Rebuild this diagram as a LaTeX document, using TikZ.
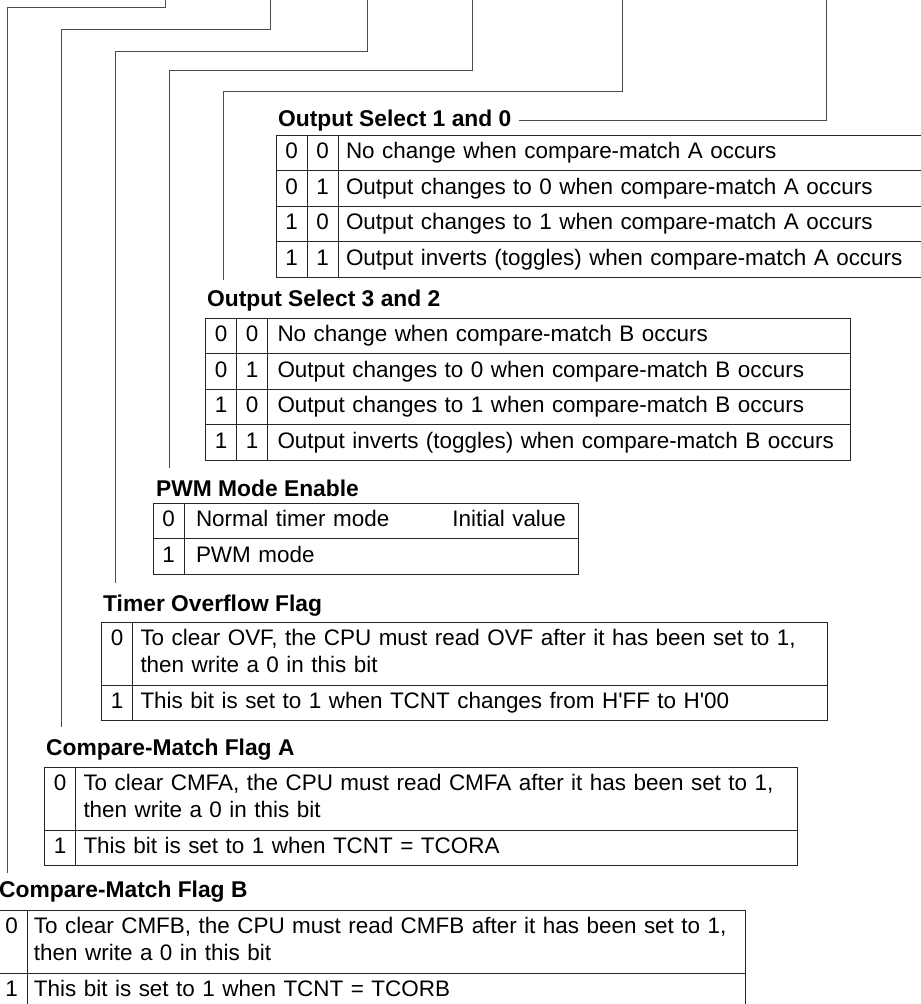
\documentclass[tikz,border=0pt]{standalone}
\usepackage{fontspec}
\setmainfont{Liberation Sans}
\usepackage{tikz}
\usetikzlibrary{positioning,calc}
\newcommand{\regfont}{\fontsize{22.45pt}{27pt}\selectfont\hyphenpenalty=10000\relax}
\newcommand{\headfont}{\fontsize{22.8pt}{27pt}\selectfont\bfseries}
\tikzset{BIT/.style={rectangle,draw=black!85,line width=0.9pt,inner sep=0pt,outer sep=0pt,minimum width=31pt,minimum height=35.5pt,text height=16.5pt,text depth=5pt}}
\tikzset{DESC/.style={BIT,align=left,inner xsep=8pt,text width=#1}}
\tikzset{TWO/.style={minimum height=63pt,text depth=32pt}}
\tikzset{TITLE/.style={font=\headfont,anchor=base west,inner sep=0pt}}
\tikzset{LEAD/.style={line width=0.9pt,draw=black!70}}

\begin{document}
\begin{tikzpicture}[x=1pt,y=-1pt,font=\regfont]

\useasboundingbox (0,0) rectangle (921,1004);
\clip (0,0) rectangle (921,1004);

% titles
\node[TITLE] (t_os10) at (278,126) {Output Select 1 and 0};
\node[TITLE] (t_os32) at (207,306) {Output Select 3 and 2};
\node[TITLE] (t_pwm) at (156,496) {PWM Mode Enable};
\node[TITLE] (t_ovf) at (103,611) {Timer Overflow Flag};
\node[TITLE] (t_cmfa) at (46,755) {Compare-Match Flag A};
\node[TITLE] (t_cmfb) at (-1,897) {Compare-Match Flag B};

% output select 1 and 0
\node[BIT,anchor=north west] (os10_a0) at (276,135) {0};
\node[BIT,right=0pt of os10_a0] (os10_b0) {0};
\node[DESC=568pt,right=0pt of os10_b0] (os10_d0) {No change when compare-match A occurs};
\node[BIT,below=0pt of os10_a0] (os10_a1) {0};
\node[BIT,right=0pt of os10_a1] (os10_b1) {1};
\node[DESC=568pt,right=0pt of os10_b1] (os10_d1) {Output changes to 0 when compare-match A occurs};
\node[BIT,below=0pt of os10_a1] (os10_a2) {1};
\node[BIT,right=0pt of os10_a2] (os10_b2) {0};
\node[DESC=568pt,right=0pt of os10_b2] (os10_d2) {Output changes to 1 when compare-match A occurs};
\node[BIT,below=0pt of os10_a2] (os10_a3) {1};
\node[BIT,right=0pt of os10_a3] (os10_b3) {1};
\node[DESC=568pt,right=0pt of os10_b3] (os10_d3) {Output inverts (toggles) when compare-match A occurs};

% output select 3 and 2
\node[BIT,anchor=north west] (os32_a0) at (205.5,318) {0};
\node[BIT,right=0pt of os32_a0] (os32_b0) {0};
\node[DESC=562.5pt,inner xsep=10pt,right=0pt of os32_b0] (os32_d0) {No change when compare-match B occurs};
\node[BIT,below=0pt of os32_a0] (os32_a1) {0};
\node[BIT,right=0pt of os32_a1] (os32_b1) {1};
\node[DESC=562.5pt,inner xsep=10pt,right=0pt of os32_b1] (os32_d1) {Output changes to 0 when compare-match B occurs};
\node[BIT,below=0pt of os32_a1] (os32_a2) {1};
\node[BIT,right=0pt of os32_a2] (os32_b2) {0};
\node[DESC=562.5pt,inner xsep=10pt,right=0pt of os32_b2] (os32_d2) {Output changes to 1 when compare-match B occurs};
\node[BIT,below=0pt of os32_a2] (os32_a3) {1};
\node[BIT,right=0pt of os32_a3] (os32_b3) {1};
\node[DESC=562.5pt,inner xsep=10pt,right=0pt of os32_b3] (os32_d3) {Output inverts (toggles) when compare-match B occurs};

% pwm mode enable
\node[BIT,anchor=north west] (pwm_a0) at (153,503) {0};
\node[DESC=370pt,inner xsep=12pt,right=0pt of pwm_a0] (pwm_d0) {Normal timer mode\hfill Initial value};
\node[BIT,below=0pt of pwm_a0] (pwm_a1) {1};
\node[DESC=370pt,inner xsep=12pt,right=0pt of pwm_a1] (pwm_d1) {PWM mode};

% timer overflow flag
\node[BIT,TWO,anchor=north west] (ovf_a0) at (101.5,622) {0};
\node[DESC=678.5pt,TWO,right=0pt of ovf_a0] (ovf_d0) {To clear OVF, the CPU must read OVF after it has been set to 1,\\then write a 0 in this bit};
\node[BIT,below=0pt of ovf_a0] (ovf_a1) {1};
\node[DESC=678.5pt,right=0pt of ovf_a1] (ovf_d1) {This bit is set to 1 when TCNT changes from H\textquotesingle FF to H\textquotesingle 00};

% compare-match flag a
\node[BIT,TWO,anchor=north west] (cmfa_a0) at (44.5,767) {0};
\node[DESC=705.5pt,TWO,right=0pt of cmfa_a0] (cmfa_d0) {To clear CMFA, the CPU must read CMFA after it has been set to 1,\\then write a 0 in this bit};
\node[BIT,below=0pt of cmfa_a0] (cmfa_a1) {1};
\node[DESC=705.5pt,right=0pt of cmfa_a1] (cmfa_d1) {This bit is set to 1 when TCNT = TCORA};

% compare-match flag b
\node[BIT,TWO,anchor=north west] (cmfb_a0) at (-4,910) {0};
\node[DESC=704pt,inner xsep=7pt,TWO,right=0pt of cmfb_a0] (cmfb_d0) {To clear CMFB, the CPU must read CMFB after it has been set to 1,\\then write a 0 in this bit};
\node[BIT,below=0pt of cmfb_a0] (cmfb_a1) {1};
\node[DESC=704pt,inner xsep=7pt,right=0pt of cmfb_a1] (cmfb_d1) {This bit is set to 1 when TCNT = TCORB};

% leader lines from the register bits
\coordinate (b_cmfb) at (165,-2);
\coordinate (e_cmfb) at (7,873);
\draw[LEAD] (b_cmfb) -- ++(0,9) -| (e_cmfb);

\coordinate (b_cmfa) at (270,-2);
\coordinate (e_cmfa) at (61,727);
\draw[LEAD] (b_cmfa) -- ++(0,31) -| (e_cmfa);

\coordinate (b_ovf) at (367,-2);
\coordinate (e_ovf) at (115,583);
\draw[LEAD] (b_ovf) -- ++(0,53) -| (e_ovf);

\coordinate (b_pwm) at (472,-2);
\coordinate (e_pwm) at (169,468);
\draw[LEAD] (b_pwm) -- ++(0,72) -| (e_pwm);

\coordinate (b_os32) at (622,-2);
\coordinate (e_os32) at (223,280);
\draw[LEAD] (b_os32) -- ++(0,93) -| (e_os32);

\coordinate (b_os10) at (826,-2);
\draw[LEAD] (b_os10) |- ([xshift=7pt]t_os10.east);

\end{tikzpicture}
\end{document}
